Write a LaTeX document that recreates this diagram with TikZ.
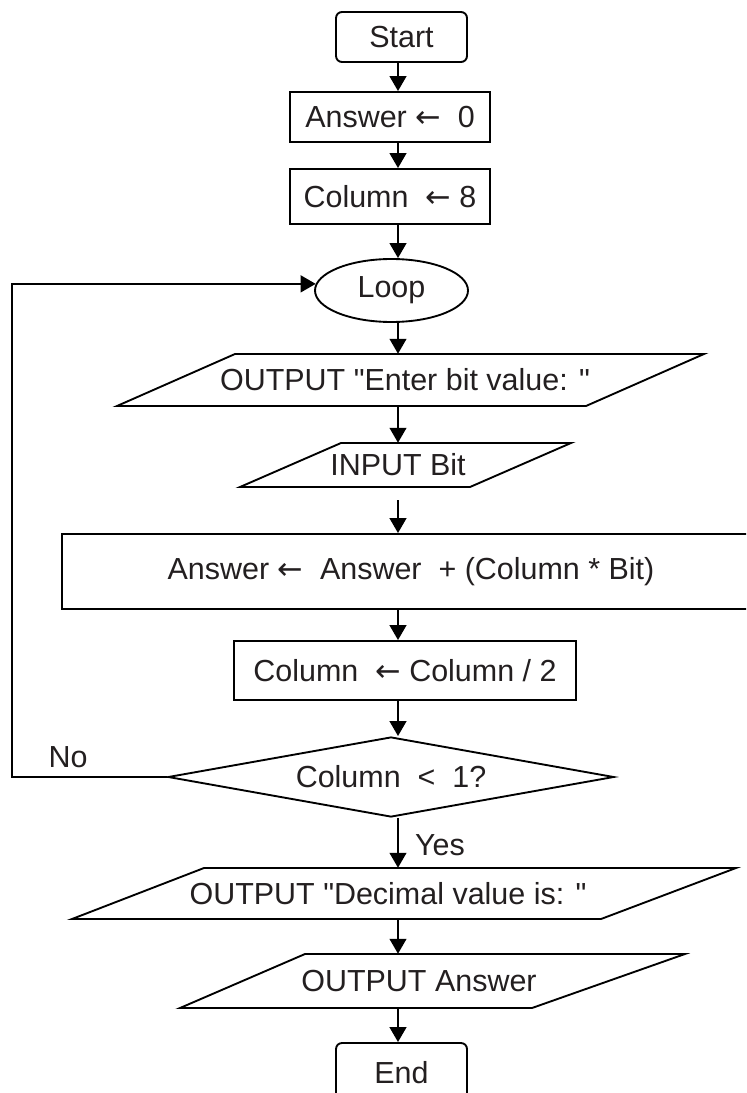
\documentclass[tikz,border=0pt]{standalone}
\usepackage{fontspec}
\setmainfont{Liberation Sans}[Ligatures=TeXOff]
\newfontfamily\arrowfont{DejaVu Sans}
\newcommand{\getsarrow}{{\arrowfont ←}}
\usetikzlibrary{arrows.meta,shapes.geometric}
\definecolor{inkgray}{RGB}{35,31,32}
\tikzset{
  lbl/.style={text=inkgray,font=\fontsize{26}{31}\selectfont,inner sep=0pt},
  termbox/.style={lbl,draw,line width=1.6pt,rounded corners=0.18cm},
  procbox/.style={lbl,draw,line width=1.6pt},
  iobox/.style={line width=1.6pt},
  arr/.style={line width=2pt,-{Triangle[length=0.45cm,width=0.5cm]}},
}

\begin{document}
\begin{tikzpicture}[x=0.03cm,y=-0.03cm]
\pgfmathsetmacro{\px}{0.03}
\useasboundingbox (0,0) rectangle (746,1093);
\clip (0,0) rectangle (746,1093);
\coordinate (spine) at (398,0);
% terminals, process boxes, decision
\node[termbox,minimum width=131*\px cm,minimum height=50*\px cm] (start) at (401.5,37) {Start};
\node[procbox,minimum width=200*\px cm,minimum height=50*\px cm] (ans0) at (390,117) {Answer \getsarrow~~0};
\node[procbox,minimum width=200*\px cm,minimum height=55*\px cm] (col8) at (390,196.5) {Column~~\getsarrow{} 8};
\node[lbl,draw,line width=1.6pt,ellipse,minimum width=153*\px cm,minimum height=63*\px cm] (loop) at (391.5,290.5) {Loop};
\node[procbox,minimum width=698*\px cm,minimum height=75*\px cm] (calc) at (411,571.5) {Answer \getsarrow~~Answer~~+ (Column * Bit)};
\node[procbox,minimum width=342*\px cm,minimum height=59*\px cm] (half) at (405,670.5) {Column~~\getsarrow{} Column / 2};
\node[lbl,draw,line width=1.6pt,diamond,aspect=5.5,minimum width=446*\px cm,minimum height=80*\px cm] (test) at (391,777) {Column~~<~~1?};
\node[termbox,minimum width=131*\px cm,minimum height=60*\px cm] (stop) at (401.5,1073) {End};
% input/output
\node[lbl,minimum height=52*\px cm] (outbit) at (405,380) {OUTPUT "Enter bit value: "};
\draw[iobox] (235,354) -- (704,354) -- (586,406) -- (117,406) -- cycle;
\node[lbl,minimum height=44*\px cm] (inbit) at (398,465) {INPUT Bit};
\draw[iobox] (341,443) -- (571,443) -- (470,487) -- (240,487) -- cycle;
\node[lbl,minimum height=51*\px cm] (outdec) at (388,893.5) {OUTPUT "Decimal value is: "};
\draw[iobox] (204,868) -- (736,868) -- (601,919) -- (72,919) -- cycle;
\node[lbl,minimum height=54*\px cm] (outans) at (419,981) {OUTPUT Answer};
\draw[iobox] (305,954) -- (685,954) -- (532,1008) -- (180,1008) -- cycle;
% flow
\foreach \a/\b in {start/ans0,ans0/col8,col8/loop,loop/outbit,outbit/inbit,calc/half,half/test,test/outdec,outdec/outans,outans/stop}
  {\draw[arr] (\a.south -| spine) -- (\b.north -| spine);}
\draw[arr,shorten <=13*\px cm] (inbit.south -| spine) -- (calc.north -| spine);
\node[lbl] (yes) at (440,845) {Yes};
\coordinate (back) at (12,777);
\draw[arr] (test.west) -- (back) |- (loop.175);
\node[lbl] (no) at (68,757) {No};
\end{tikzpicture}
\end{document}
